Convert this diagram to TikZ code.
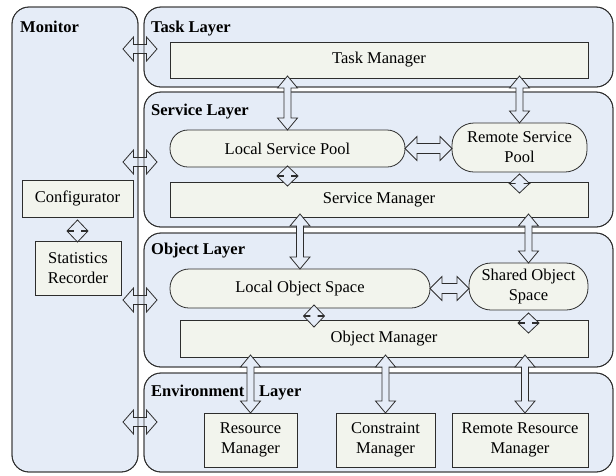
\documentclass[tikz,border=0pt]{standalone}
\usepackage{fontspec}
\setmainfont{Liberation Serif}
\usetikzlibrary{calc}

\definecolor{panelfill}{RGB}{229,236,247}
\definecolor{boxfill}{RGB}{242,244,237}
\definecolor{edge}{RGB}{45,45,45}

% vertical double arrow: #1 top tip, #2 bottom tip, #3 head half-width, #4 shaft half-width, #5 head length
\newcommand\vdarrow[5]{%
  \draw[arr] let \p1=#1, \p2=#2 in
    (\x1,\y1) -- (\x1+#3,\y1-#5) -- (\x1+#4,\y1-#5) -- (\x1+#4,\y2+#5) -- (\x1+#3,\y2+#5)
    -- (\x1,\y2) -- (\x1-#3,\y2+#5) -- (\x1-#4,\y2+#5) -- (\x1-#4,\y1-#5) -- (\x1-#3,\y1-#5) -- cycle;}
% horizontal double arrow: #1 left tip, #2 right tip, #3 head half-height, #4 shaft half-height, #5 head length
\newcommand\hdarrow[5]{%
  \draw[arr] let \p1=#1, \p2=#2 in
    (\x1,\y1) -- (\x1+#5,\y1+#3) -- (\x1+#5,\y1+#4) -- (\x2-#5,\y1+#4) -- (\x2-#5,\y1+#3)
    -- (\x2,\y1) -- (\x2-#5,\y1-#3) -- (\x2-#5,\y1-#4) -- (\x1+#5,\y1-#4) -- (\x1+#5,\y1-#3) -- cycle;}

\begin{document}
\begin{tikzpicture}[x=1pt,y=-1pt,
  font=\fontsize{16.5}{20}\selectfont,
  panel/.style={draw=edge, fill=panelfill, line width=0.8pt, rounded corners=17pt,
    inner sep=0pt, outer sep=0pt},
  panelline/.style={draw=edge, line width=0.8pt, rounded corners=17pt},
  box/.style={draw=edge, fill=boxfill, line width=0.8pt, inner sep=0pt, outer sep=0pt, align=center},
  pool/.style={box, rounded corners=#1},
  title/.style={anchor=base west, inner sep=0pt, font=\fontsize{16.5}{20}\selectfont\bfseries},
  arr/.style={draw=edge, fill=panelfill, line width=0.8pt, line join=miter}]

\useasboundingbox (0,0) rectangle (616,475);
\fill[white] (0,0) rectangle (616,475);

% panels
\node[panel, minimum width=126pt, minimum height=465pt] (mon) at (75,239.5) {};
\node[panel, minimum width=469pt, minimum height=80pt] (task) at (378.5,47) {};
\node[panel, minimum width=469pt, minimum height=135pt] (serv) at (378.5,159.5) {};
\node[panel, minimum width=469pt, minimum height=134pt] (obj) at (378.5,300) {};
\node[panel, minimum width=469pt, minimum height=99pt] (env) at (378.5,422.5) {};

% monitor links to every layer
\coordinate (m1) at (123,49);  \coordinate (l1) at (157,49);
\coordinate (m2) at (123,162); \coordinate (l2) at (157,162);
\coordinate (m3) at (123,300); \coordinate (l3) at (157,300);
\coordinate (m4) at (123,422); \coordinate (l4) at (157,422);
\hdarrow{(m1)}{(l1)}{12pt}{4.5pt}{10.5pt}
\hdarrow{(m2)}{(l2)}{12pt}{4.5pt}{10.5pt}
\hdarrow{(m3)}{(l3)}{12pt}{4.5pt}{10.5pt}
\hdarrow{(m4)}{(l4)}{12pt}{4.5pt}{10.5pt}

% panel borders run across the monitor links
\foreach \p in {mon,task,serv,obj,env}
  \draw[panelline] (\p.south west) rectangle (\p.north east);

% titles
\node[title] (tmon) at (20,32) {Monitor};
\node[title] (ttask) at (151,32) {Task Layer};
\node[title] (tserv) at (151,115) {Service Layer};
\node[title] (tobj) at (151,254) {Object Layer};
\node[title] (tenv) at (151,396) {Environment\hspace{0.9em}Layer};

% components
\node[box, minimum width=418pt, minimum height=36pt] (TM) at (379,60) {Task Manager};
\node[pool=18pt, minimum width=235pt, minimum height=37pt] (LSP) at (287.5,148.5) {Local Service Pool};
\node[pool=22pt, minimum width=135pt, minimum height=49pt] (RSP) at (519.5,147.5) {Remote Service\\Pool};
\node[box, minimum width=418pt, minimum height=35pt] (SM) at (379,199.5) {Service Manager};
\node[box, minimum width=111pt, minimum height=37pt] (CFG) at (77.5,198.5) {Configurator};
\node[box, minimum width=86pt, minimum height=54pt] (SR) at (78,268) {Statistics\\Recorder};
\node[pool=19pt, minimum width=260pt, minimum height=39pt] (LOS) at (300,288.5) {Local Object Space};
\node[pool=22pt, minimum width=119pt, minimum height=47pt] (SOS) at (528.5,286.5) {Shared Object\\Space};
\node[box, minimum width=408pt, minimum height=37pt] (OM) at (384,338.5) {Object Manager};
\node[box, minimum width=93pt, minimum height=54pt] (RM) at (250.5,440) {Resource\\Manager};
\node[box, minimum width=99pt, minimum height=54pt] (CM) at (385.5,440) {Constraint\\Manager};
\node[box, minimum width=136pt, minimum height=54pt] (RRM) at (520,440) {Remote Resource\\Manager};

% links between layers
\vdarrow{($(TM.south -| LSP.north)+(0,-2)$)}{(LSP.north)}{10pt}{3.5pt}{12pt}
\vdarrow{($(TM.south -| RSP.north)+(0,-2)$)}{(RSP.north)}{10pt}{3.5pt}{12pt}
\vdarrow{($(SM.south -| LOS.north)+(0,-3)$)}{(LOS.north)}{10pt}{3.5pt}{12pt}
\vdarrow{($(SM.south -| SOS.north)+(0,-3)$)}{(SOS.north)}{10pt}{3.5pt}{12pt}
\vdarrow{($(OM.south -| RM.north)+(0,-2)$)}{(RM.north)}{10pt}{3.5pt}{12pt}
\vdarrow{($(OM.south -| CM.north)+(0,-2)$)}{(CM.north)}{10pt}{3.5pt}{12pt}
\vdarrow{($(OM.south -| RRM.north)+(5,-2)$)}{($(RRM.north)+(5,0)$)}{10pt}{3.5pt}{12pt}

% links inside layers
\hdarrow{(LSP.east)}{(RSP.west)}{12pt}{5pt}{12pt}
\hdarrow{(LOS.east)}{(SOS.west)}{12pt}{5pt}{12pt}

% short links to the managers
\vdarrow{($(LSP.south)+(0,-1)$)}{($(LSP.south)+(0,19)$)}{10pt}{4pt}{9.5pt}
\vdarrow{($(RSP.south)+(0,2)$)}{($(RSP.south)+(0,21)$)}{10pt}{4pt}{9.5pt}
\vdarrow{($(LOS.south)+(14,-3)$)}{($(LOS.south)+(14,19)$)}{10pt}{4pt}{10.5pt}
\vdarrow{($(SOS.south)+(0,3)$)}{($(SOS.south)+(0,23)$)}{10pt}{4pt}{9.5pt}
\vdarrow{($(CFG.south)+(0,3)$)}{($(SR.north)+(-1,1)$)}{10pt}{4pt}{10.5pt}

\end{tikzpicture}
\end{document}
